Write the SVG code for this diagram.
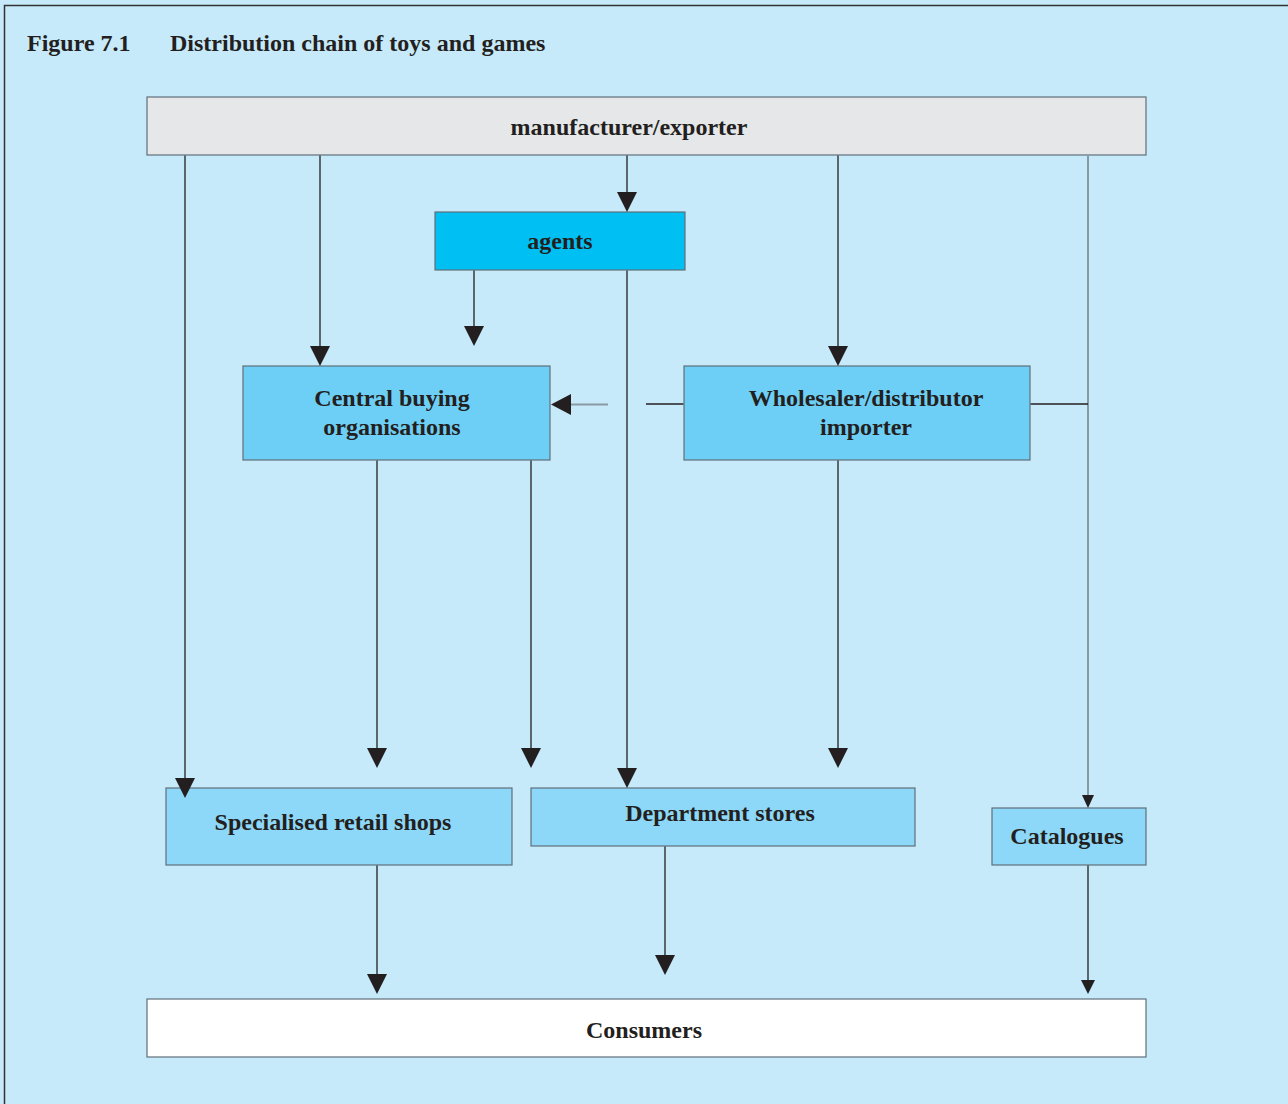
<svg xmlns="http://www.w3.org/2000/svg" width="1288" height="1104" viewBox="0 0 1288 1104">
<style>
.box{stroke:#5f6f7a;stroke-width:1.2}
.t{font-family:"Liberation Serif","Times New Roman",serif;font-weight:bold;font-size:24px;fill:#231f20;text-anchor:middle}
.title{font-family:"Liberation Serif","Times New Roman",serif;font-weight:bold;font-size:24px;fill:#231f20}
.c{stroke:#231f20;stroke-width:1.3;fill:none}
.g{stroke:#8a9aa4;stroke-width:2;fill:none}
.ah{fill:#231f20}
</style>
<rect x="0" y="0" width="1288" height="1104" fill="#c7eafa"/>
<path d="M4.5 1104 V5.5 H1288" stroke="#333" stroke-width="1.5" fill="none"/>
<text class="title" x="27" y="51">Figure 7.1</text>
<text class="title" x="170" y="51">Distribution chain of toys and games</text>
<g id="manufacturer"><rect class="box" x="147" y="97" width="999" height="58" fill="#e6e7e9"/><text class="t" x="629" y="135">manufacturer/exporter</text></g>
<g id="agents"><rect class="box" x="435" y="212" width="250" height="58" fill="#00bff3"/><text class="t" x="560" y="249">agents</text></g>
<g id="central"><rect class="box" x="243" y="366" width="307" height="94" fill="#6dcff6"/><text class="t" x="392" y="406">Central buying</text><text class="t" x="392" y="435">organisations</text></g>
<g id="wholesaler"><rect class="box" x="684" y="366" width="346" height="94" fill="#6dcff6"/><text class="t" x="866" y="406">Wholesaler/distributor</text><text class="t" x="866" y="435">importer</text></g>
<g id="specialised"><rect class="box" x="166" y="788" width="346" height="77" fill="#8dd8f8"/><text class="t" x="333" y="830">Specialised retail shops</text></g>
<g id="department"><rect class="box" x="531" y="788" width="384" height="58" fill="#8dd8f8"/><text class="t" x="720" y="821">Department stores</text></g>
<g id="catalogues"><rect class="box" x="992" y="808" width="154" height="57" fill="#8dd8f8"/><text class="t" x="1067" y="844">Catalogues</text></g>
<g id="consumers"><rect class="box" x="147" y="999" width="999" height="58" fill="#ffffff"/><text class="t" x="644" y="1038">Consumers</text></g>
<g id="connectors">
<path class="c" d="M185 155.6 V780"/>
<polygon class="ah" points="175,778 195,778 185,798"/>
<path class="c" d="M320 155.6 V348"/>
<polygon class="ah" points="310,346 330,346 320,366"/>
<path class="c" d="M627 155.6 V194"/>
<polygon class="ah" points="617,192 637,192 627,212"/>
<path class="c" d="M838 155.6 V348"/>
<polygon class="ah" points="828,346 848,346 838,366"/>
<path class="g" d="M1088 155.6 V796"/>
<path class="c" d="M1030.6 404 H1088"/>
<polygon class="ah" points="1082,795 1094,795 1088,808"/>
<path class="c" d="M474 270.6 V328"/>
<polygon class="ah" points="464,326 484,326 474,346"/>
<path class="c" d="M627 270.6 V770"/>
<polygon class="ah" points="617,768 637,768 627,788"/>
<path class="c" d="M646 404 H683.4"/>
<path class="g" d="M608 404.5 H568"/>
<polygon class="ah" points="571,394 571,415 551,404.5"/>
<path class="c" d="M377 460.6 V750"/>
<polygon class="ah" points="367,748 387,748 377,768"/>
<path class="c" d="M531 460.6 V750"/>
<polygon class="ah" points="521,748 541,748 531,768"/>
<path class="c" d="M838 460.6 V750"/>
<polygon class="ah" points="828,748 848,748 838,768"/>
<path class="c" d="M377 865.6 V976"/>
<polygon class="ah" points="367,974 387,974 377,994"/>
<path class="c" d="M665 846.6 V957"/>
<polygon class="ah" points="655,955 675,955 665,975"/>
<path class="c" d="M1088 865.6 V982"/>
<polygon class="ah" points="1081,980 1095,980 1088,994"/>
</g>
</svg>
